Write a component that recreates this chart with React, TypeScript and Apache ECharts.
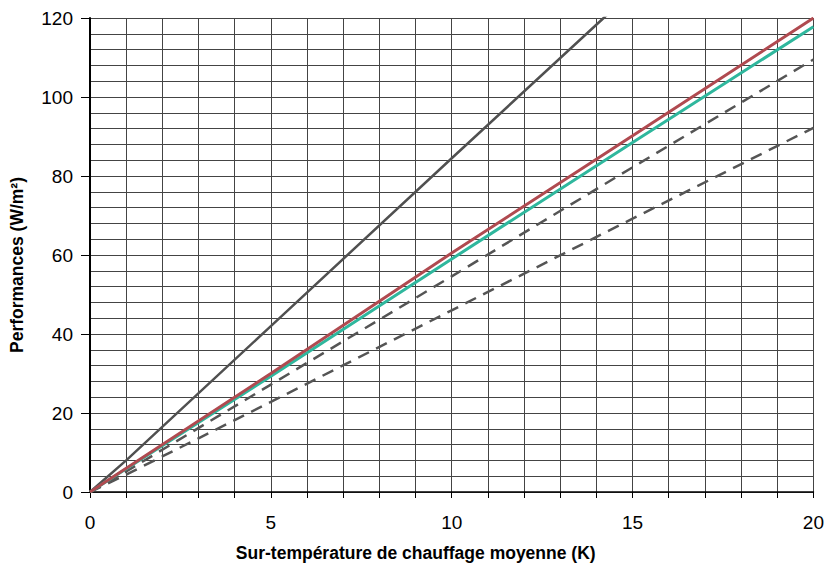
import React, { useEffect, useRef } from "react";
import * as echarts from "echarts";

const seriesNames = ["Steep", "Red", "Teal", "DashedUpper", "DashedLower"];
const steepData = [[0, 0], [1, 8.0], [5, 42], [10, 84.5], [14.2, 120], [20, 169]];
const redData = [[0, 0], [5, 30], [10, 60.5], [15, 90.2], [20, 120]];
const tealData = [[0, 0], [5, 29.3], [10, 59.0], [15, 88.5], [20, 117.8]];
const dashedUpperData = [[0, 0], [1, 5.2], [5, 27.2], [10, 54.6], [15, 82.2], [20, 109.5]];
const dashedLowerData = [[0, 0], [1, 4.4], [5, 22.8], [10, 46.0], [15, 69.2], [20, 92.2]];

export default function App() {
  const ref = useRef<HTMLDivElement>(null);
  useEffect(() => {
    const chart = echarts.init(ref.current!, null, { renderer: "svg" });
    const font = "'Liberation Sans', Arial, sans-serif";
    const gridLine = { show: true, lineStyle: { color: "#444", width: 1 } };
    chart.setOption({
      animation: false,
      textStyle: { fontFamily: font },
      grid: { left: 89, right: 12, top: 18, bottom: 76, containLabel: false },
      xAxis: {
        type: "value",
        min: 0,
        max: 20,
        interval: 5,
        name: "Sur-température de chauffage moyenne (K)",
        nameLocation: "middle",
        nameGap: 52,
        nameTextStyle: { fontFamily: font, fontWeight: "bold", fontSize: 17.5, color: "#000", padding: [0, 72, 0, 0] },
        axisLine: { show: true, lineStyle: { color: "#000", width: 1.5 } },
        axisTick: { show: true, length: 6, lineStyle: { color: "#000" } },
        minorTick: { show: true, splitNumber: 5, length: 6, lineStyle: { color: "#000" } },
        splitLine: gridLine,
        minorSplitLine: gridLine,
        axisLabel: { show: true, fontFamily: font, fontSize: 19, color: "#000", margin: 21 },
      },
      yAxis: {
        type: "value",
        min: 0,
        max: 120,
        interval: 20,
        name: "Performances (W/m²)",
        nameLocation: "middle",
        nameGap: 64,
        nameRotate: 90,
        nameTextStyle: { fontFamily: font, fontWeight: "bold", fontSize: 17.5, color: "#000", padding: [0, 20, 0, 0] },
        axisLine: { show: true, lineStyle: { color: "#000", width: 2 } },
        axisTick: { show: true, length: 9, lineStyle: { color: "#000" } },
        minorTick: { show: false },
        splitLine: gridLine,
        minorSplitLine: gridLine,
        axisLabel: { show: true, fontFamily: font, fontSize: 19, color: "#000", margin: 17 },
      },
      series: [
        { name: seriesNames[0], type: "line", data: steepData, showSymbol: false, clip: true,
          lineStyle: { color: "#505050", width: 2.5 } },
        { name: seriesNames[3], type: "line", data: dashedUpperData, showSymbol: false, clip: true,
          lineStyle: { color: "#555", width: 2.5, type: [12, 8] } },
        { name: seriesNames[4], type: "line", data: dashedLowerData, showSymbol: false, clip: true,
          lineStyle: { color: "#555", width: 2.5, type: [12, 8] } },
        { name: seriesNames[2], type: "line", data: tealData, showSymbol: false, clip: true,
          lineStyle: { color: "#2fb79d", width: 3 } },
        { name: seriesNames[1], type: "line", data: redData, showSymbol: false, clip: true,
          lineStyle: { color: "#b04a50", width: 3 } },
      ],
    });
    return () => chart.dispose();
  }, []);
  return <div ref={ref} style={{ width: 827, height: 568, position: "absolute", left: 0, top: 0 }} />;
}
